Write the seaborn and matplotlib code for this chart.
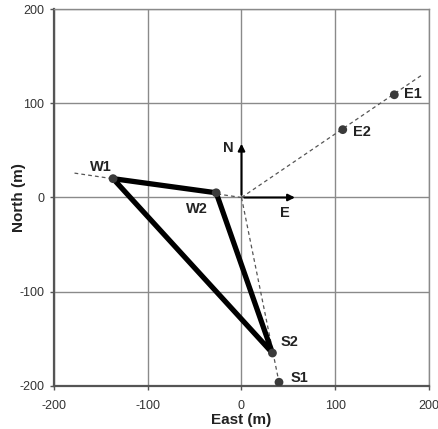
import pandas as pd
import seaborn as sns
import matplotlib.pyplot as plt

# station positions (m)
names = ["E1", "E2", "W1", "W2", "S1", "S2"]
east = [163, 108, -137, -27, 40, 33]
north = [109, 72, 20, 5, -196, -165]

# dashed bearing lines from the origin out to their far ends
ray_east = [0, 194, 0, -179, 0, 40]
ray_north = [0, 131, 0, 26, 0, -196]
ray_id = ["E", "E", "W", "W", "S", "S"]

# triangle W1 -> W2 -> S2 -> W1
tri_east = [-137, -27, 33, -137]
tri_north = [20, 5, -165, 20]

ticks = [-200, -100, 0, 100, 200]

pts = pd.DataFrame({"name": names, "East": east, "North": north})
rays = pd.DataFrame({"East": ray_east, "North": ray_north, "ray": ray_id})
tri = pd.DataFrame({"East": tri_east, "North": tri_north})

sns.set_theme(style="whitegrid")
plt.rcParams["font.family"] = ["Liberation Sans", "DejaVu Sans"]
plt.rcParams["axes.unicode_minus"] = False

fig = plt.figure(figsize=(4.39, 4.29), dpi=100)
ax = fig.add_axes([54 / 439, 1 - 386 / 429, 375 / 439, 377 / 429])

for r, sub in rays.groupby("ray"):
    sns.lineplot(x="East", y="North", data=sub, sort=False, estimator=None,
                 color="#555555", linewidth=0.9, linestyle=(0, (3, 2.5)), ax=ax)

sns.lineplot(x="East", y="North", data=tri, sort=False, estimator=None,
             color="black", linewidth=3.8, ax=ax)
ax.lines[-1].set_solid_joinstyle("round")

sns.scatterplot(x="East", y="North", data=pts, color="#3a3a3a", s=40,
                edgecolor="none", zorder=5, ax=ax)

# compass arrows
arrow_len = 60
ax.annotate("", xy=(0, arrow_len), xytext=(0, 0),
            arrowprops=dict(arrowstyle="-|>", color="black", lw=1.5, mutation_scale=10))
ax.annotate("", xy=(arrow_len, 0), xytext=(0, 0),
            arrowprops=dict(arrowstyle="-|>", color="black", lw=1.5, mutation_scale=10))
ax.annotate("N", xy=(0, arrow_len), xytext=(-13, -7), textcoords="offset pixels",
            ha="center", va="center", fontsize=10.5, fontweight="bold", color="#222222")
ax.annotate("E", xy=(arrow_len, 0), xytext=(-13, -16), textcoords="offset pixels",
            ha="center", va="center", fontsize=10.5, fontweight="bold", color="#222222")

offsets = {"E1": (19, 1), "E2": (19, -2), "W1": (-12, 12),
           "W2": (-19, -16), "S1": (20, 4), "S2": (17, 11)}
for n, x, y in zip(names, east, north):
    ax.annotate(n, xy=(x, y), xytext=offsets[n], textcoords="offset pixels",
                ha="center", va="center", fontsize=10.5, fontweight="bold", color="#222222")

ax.set_xlim(-200, 200)
ax.set_ylim(-200, 200)
ax.set_xticks(ticks)
ax.set_yticks(ticks)
ax.grid(True, color="#8a8a8a", linewidth=1.0)
ax.set_axisbelow(True)
for side in ["top", "right"]:
    ax.spines[side].set_color("#8a8a8a")
    ax.spines[side].set_linewidth(1.0)
for side in ["left", "bottom"]:
    ax.spines[side].set_color("#555555")
    ax.spines[side].set_linewidth(1.6)
ax.tick_params(axis="both", which="major", length=3, width=1, color="#555555",
               labelsize=9, labelcolor="#333333", bottom=True, left=True)
ax.tick_params(axis="x", pad=7)
ax.tick_params(axis="y", pad=4)

ax.set_xlabel("East (m)", fontsize=11, fontweight="bold", color="#222222", labelpad=1)
ax.set_ylabel("North (m)", fontsize=11, fontweight="bold", color="#222222", labelpad=-5)

fig.savefig("out.png", dpi=100)
